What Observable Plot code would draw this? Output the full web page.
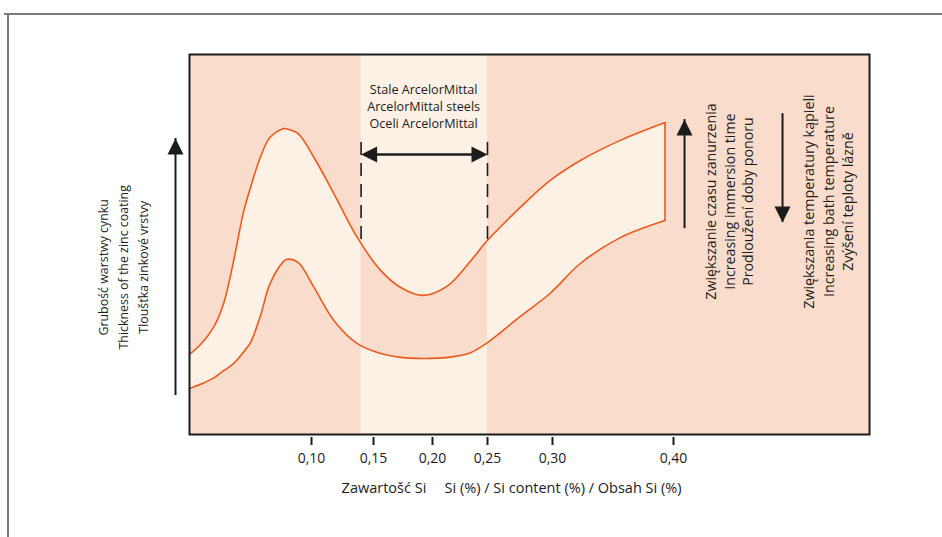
<!DOCTYPE html>
<html>
<head>
<meta charset="utf-8">
<script src="https://cdn.jsdelivr.net/npm/d3@7"></script>
<script src="https://cdn.jsdelivr.net/npm/@observablehq/plot@0.6"></script>
<style>
  html, body { margin: 0; padding: 0; background: #fff; }
  #wrap { position: relative; width: 942px; height: 537px; overflow: hidden; }
  #chart { position: absolute; left: 0; top: 0; }
  .rule { position: absolute; background: #7a7a7a; pointer-events: none; }
  #topline { left: 4px; top: 13px; right: 0; height: 1.6px; }
  #leftline { left: 7px; top: 13px; bottom: 0; width: 1.6px; }
</style>
</head>
<body>
<div id="wrap"><div id="chart"></div><div class="rule" id="topline"></div><div class="rule" id="leftline"></div></div>
<script>
// ---- data ----
const siContent      = [0, 0.009, 0.020, 0.028, 0.034, 0.039, 0.044, 0.050, 0.058, 0.066, 0.077, 0.080, 0.089,
                        0.102, 0.118, 0.137, 0.156, 0.173, 0.192, 0.214, 0.235, 0.25, 0.275, 0.298, 0.323, 0.356, 0.393];
const upperThickness = [21.1, 23.7, 28.4, 34.5, 42.4, 50.3, 58.2, 65.0, 72.9, 78.2, 80.5, 80.4, 79.2,
                        72.9, 63.4, 51.8, 43.2, 38.7, 36.6, 39.2, 45.8, 51.1, 59.7, 66.8, 72.1, 77.4, 82.1];
const lowerThickness = [12.1, 13.2, 14.9, 16.8, 18.1, 19.6, 21.6, 24.2, 31.1, 39.7, 45.5, 46.1, 45.3,
                        38.7, 30.0, 23.9, 21.3, 20.3, 20.0, 20.3, 21.6, 24.2, 31.0, 37.1, 45.0, 51.8, 56.3];
const xTicks = [0.10, 0.15, 0.20, 0.25, 0.30, 0.40];
const steelBand = [0.14, 0.25];

const yLabelLines    = ["Grubość warstwy cynku", "Thickness of the zinc coating", "Tloušťka zinkové vrstvy"];
const bandLabelLines = ["Stale ArcelorMittal", "ArcelorMittal steels", "Oceli ArcelorMittal"];
const timeLabelLines = ["Zwiększanie czasu zanurzenia", "Increasing immersion time", "Prodloužení doby ponoru"];
const tempLabelLines = ["Zwiększania temperatury kąpieli", "Increasing bath temperature", "Zvýšení teploty lázně"];
const xLabel = "Zawartošć Si\u2003 Si (%) / Si content (%) / Obsah Si (%)";

// annotation anchors (data units)
const dashSpan   = {top: 78.4, bottom: 51.3};
const bandArrowY = 73.7;
const axisArrow  = {bottom: 12.9, tip: 77.9};
const timeArrow  = {x: 0.409, bottom: 56.8, tip: 82.9};
const tempArrow  = {x: 0.489, top: 81.8, tip: 55.8};

// The printed Si axis is not evenly spaced: a piecewise mapping used as the scale transform
const siBreaks   = [0, 0.10, 0.15, 0.20, 0.25, 0.30, 0.40, 0.56];
const axisBreaks = [0, 122, 184, 243, 298, 363, 484, 680];
const siToAxis = d3.scaleLinear().domain(siBreaks).range(axisBreaks);

// ---- styles ----
const PEACH = "#f9dccb", CREAM = "#fdf0e4", ORANGE = "#ea5a1c", INK = "#1c1c1c";
const FONT = "'Open Sans', 'Noto Sans', sans-serif";
const curve = siContent.map((x, i) => ({x, upper: upperThickness[i], lower: lowerThickness[i]}));
const last = curve[curve.length - 1];

const head = (x, y, rotate, dx = 0) =>
  Plot.vector([{x, y}], {x: "x", y: "y", rotate, length: 16, r: 8, shape: "spike", anchor: "end",
                         fill: INK, stroke: "none", dx});

const plot = Plot.plot({
  width: 942, height: 537,
  marginLeft: 189, marginRight: 73, marginTop: 54, marginBottom: 103,
  style: {fontFamily: FONT, fontSize: "13px", color: INK, background: "transparent", overflow: "visible"},
  x: {type: "linear", transform: siToAxis, domain: [axisBreaks[0], axisBreaks[axisBreaks.length - 1]]},
  y: {domain: [0, 100], axis: null},
  marks: [
    Plot.frame({fill: PEACH, stroke: "none"}),
    Plot.rect([steelBand], {x1: d => d[0], x2: d => d[1], y1: 0, y2: 100, fill: CREAM, className: "band-rect"}),
    Plot.areaY(curve, {x: "x", y1: "lower", y2: "upper", fill: CREAM, curve: "catmull-rom"}),
    Plot.areaY(curve, {x: "x", y1: "lower", y2: "upper", fill: PEACH, curve: "catmull-rom", className: "band-area"}),
    Plot.line(curve, {x: "x", y: "upper", stroke: ORANGE, strokeWidth: 1.6, curve: "catmull-rom"}),
    Plot.line(curve, {x: "x", y: "lower", stroke: ORANGE, strokeWidth: 1.6, curve: "catmull-rom"}),
    Plot.ruleX([last], {x: "x", y1: "lower", y2: "upper", stroke: ORANGE, strokeWidth: 1.6}),
    // dashed band limits
    Plot.ruleX(steelBand, {x: d => d, y1: dashSpan.bottom, y2: dashSpan.top, stroke: INK, strokeWidth: 1.6, strokeDasharray: "13,8"}),
    // double arrow
    Plot.ruleY([bandArrowY], {x1: steelBand[0], x2: steelBand[1], stroke: INK, strokeWidth: 2.5, insetLeft: 10, insetRight: 10}),
    head(steelBand[0], bandArrowY, -90),
    head(steelBand[1], bandArrowY, 90),
    // y-axis arrow
    Plot.ruleX([0], {y1: axisArrow.bottom, y2: axisArrow.tip, stroke: INK, strokeWidth: 2, dx: -14, insetTop: 10}),
    head(0, axisArrow.tip, 0, -14),
    // immersion time arrow (up)
    Plot.ruleX([timeArrow.x], {y1: timeArrow.bottom, y2: timeArrow.tip, stroke: INK, strokeWidth: 2, insetTop: 10}),
    head(timeArrow.x, timeArrow.tip, 0),
    // bath temperature arrow (down)
    Plot.ruleX([tempArrow.x], {y1: tempArrow.tip, y2: tempArrow.top, stroke: INK, strokeWidth: 2, insetBottom: 10}),
    head(tempArrow.x, tempArrow.tip, 180),
    // texts
    Plot.text([bandLabelLines.join("\n")], {x: 0.1925, y: 86.6, text: d => d, fontSize: 12.6, lineHeight: 1.33, fill: INK}),
    Plot.text([yLabelLines.join("\n")], {x: 0, y: 44, dx: -68, text: d => d, rotate: -90, fontSize: 12.4, lineHeight: 1.62, fill: INK}),
    Plot.text([timeLabelLines.join("\n")], {x: 0.445, y: 61.3, text: d => d, rotate: -90, fontSize: 14.2, lineHeight: 1.3, fill: INK}),
    Plot.text([tempLabelLines.join("\n")], {x: 0.5257, y: 61.3, text: d => d, rotate: -90, fontSize: 14.3, lineHeight: 1.34, fill: INK}),
    Plot.text([xLabel], {x: 0.2685, frameAnchor: "bottom", dy: 58, text: d => d, fontSize: 14.5, fill: INK}),
    Plot.axisX({ticks: xTicks.map(siToAxis), tickSize: 8, tickPadding: 8, dy: 3, fontSize: 14,
                tickFormat: v => d3.format(".2f")(siToAxis.invert(v)).replace(".", ","),
                label: null, strokeWidth: 2, fill: INK}),
    Plot.frame({stroke: INK, strokeWidth: 2})
  ]
});

// clip the second area to the steel band so the fill is inverted there
const svg = d3.select(plot);
let bandRect = svg.select("g.band-rect rect");
if (bandRect.empty()) bandRect = svg.selectAll("g[aria-label='rect'] rect").filter((d, i) => i === 0);
const bx = +bandRect.attr("x"), bw = +bandRect.attr("width");
svg.insert("defs", ":first-child").append("clipPath").attr("id", "band-clip")
   .append("rect").attr("x", bx).attr("y", 0).attr("width", bw).attr("height", 537);
let bandArea = svg.select("g.band-area");
if (bandArea.empty()) bandArea = svg.selectAll("g[aria-label='area']").filter((d, i) => i === 1);
bandArea.attr("clip-path", "url(#band-clip)");

document.getElementById("chart").appendChild(plot);
</script>
</body>
</html>
